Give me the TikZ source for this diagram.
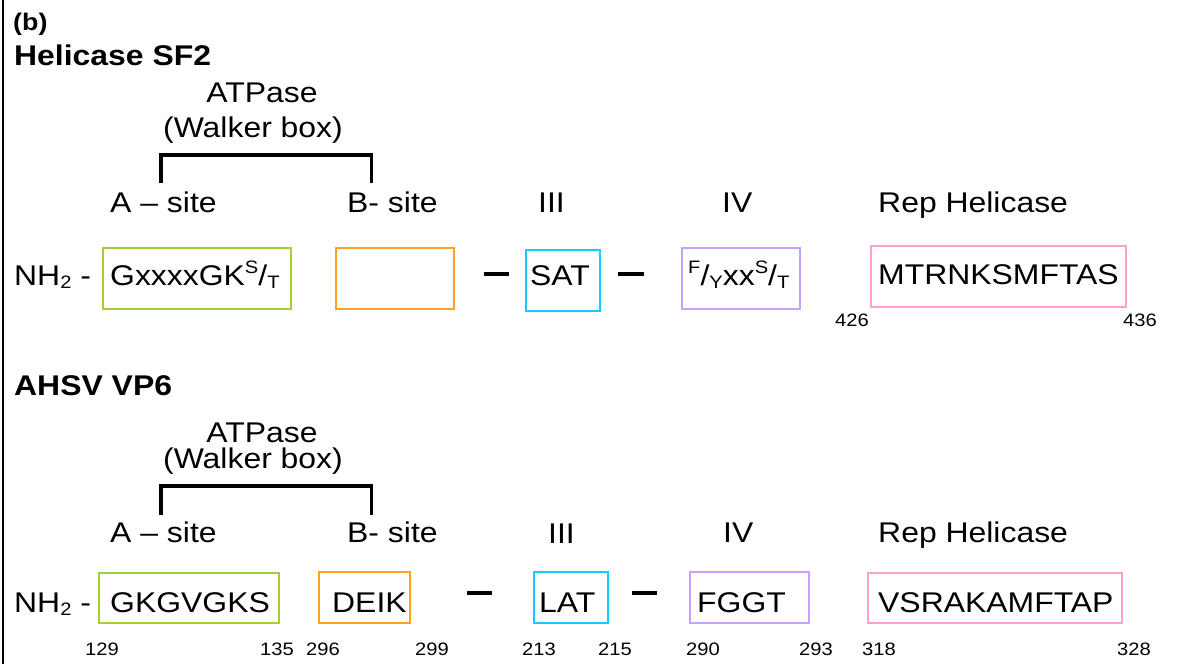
\documentclass[tikz,border=0pt]{standalone}
\usepackage{fontspec}
\setmainfont{Liberation Sans}[FakeStretch=1.12]
\definecolor{bgreen}{RGB}{160,208,50}
\definecolor{borange}{RGB}{255,160,30}
\definecolor{bcyan}{RGB}{20,204,250}
\definecolor{bpurple}{RGB}{200,160,255}
\definecolor{bpink}{RGB}{255,160,210}
\newcommand\SmallTxt[1]{{\fontsize{18}{18}\selectfont #1}}
\newcommand\SupT[1]{\raisebox{12pt}{\SmallTxt{#1}}}
\newcommand\SubT[1]{\raisebox{-3pt}{\SmallTxt{#1}}}
\newcommand\SupSub[2]{\SupT{#1}/\SubT{#2}}
\begin{document}
\begin{tikzpicture}[x=1pt,y=-1pt,
  t/.style={anchor=base west, inner sep=0pt, font=\fontsize{28.5}{30}\selectfont},
  tb/.style={anchor=base west, inner sep=0pt, font=\fontsize{28.5}{30}\selectfont\bfseries},
  num/.style={anchor=base west, inner sep=0pt, font=\fontsize{18}{20}\selectfont},
  seqbox/.style={draw=#1, line width=2pt, inner sep=0pt, anchor=north west},
  brk/.style={line width=3.3pt},
  dsh/.style={line width=3.5pt},
  frame/.style={line width=2pt}]
\useasboundingbox (0,0) rectangle (1203,664);
\coordinate (ftop) at (3,0);
\coordinate (fbot) at (3,664);
\draw[frame] (ftop) -- (fbot);

\newcommand\bx[6]{\node[seqbox=#2, minimum width={(#5-#3)*1pt}, minimum height={(#6-#4)*1pt}] (#1) at (#3,#4) {};}

% ---------- Panel 1 ----------
\node[anchor=base west, inner sep=0pt, font=\fontsize{24}{26}\selectfont\bfseries] (lab) at (13,30) {(b)};
\node[tb] (title1) at (14,65) {Helicase SF2};
\node[anchor=base, inner sep=0pt, font=\fontsize{28.5}{30}\selectfont] (atp1) at (262,102) {ATPase};
\node[anchor=base, inner sep=0pt, font=\fontsize{28.5}{30}\selectfont] (wb1) at (253,137) {(Walker box)};
\coordinate (bl1) at (161,183);
\coordinate (bt1l) at (161,155);
\coordinate (bt1r) at (371.5,155);
\coordinate (br1) at (371.5,183);
\draw[brk] (bl1) -- (bt1l) -- (bt1r) -- (br1);

\node[t] (a1) at (110,212) {A – site};
\node[t] (b1) at (347,212) {B- site};
\node[t] (iii1) at (538,212) {III};
\node[t] (iv1) at (722,212) {IV};
\node[t] (rep1) at (878,212) {Rep Helicase};

\bx{g1}{bgreen}{102}{247}{290}{308}
\bx{o1}{borange}{335}{247}{453}{308}
\bx{c1}{bcyan}{525}{249}{599}{310}
\bx{p1}{bpurple}{681}{247}{799}{308}
\bx{k1}{bpink}{870}{245}{1125}{306}

\node[t] (nh1) at (14,285) {NH\SubT{2} -};
\node[t] (s1a) at (110,285) {GxxxxGK\SupSub{S}{T}};
\node[t] (s1c) at (530,285) {SAT};
\node[t] (s1d) at (688,285) {\SupSub{F}{Y}xx\SupSub{S}{T}};
\node[t] (s1e) at (878,284) {MTRNKSMFTAS};

\coordinate (d1a) at (484,274); \coordinate (d1b) at (509,274);
\coordinate (d1c) at (618,274); \coordinate (d1d) at (644,274);
\draw[dsh] (d1a) -- (d1b);
\draw[dsh] (d1c) -- (d1d);

\node[num] (n426) at (835,326) {426};
\node[num] (n436) at (1123,326) {436};

% ---------- Panel 2 ----------
\node[tb] (title2) at (14,395) {AHSV VP6};
\node[anchor=base, inner sep=0pt, font=\fontsize{28.5}{30}\selectfont] (atp2) at (262,442) {ATPase};
\node[anchor=base, inner sep=0pt, font=\fontsize{28.5}{30}\selectfont] (wb2) at (253,468) {(Walker box)};
\coordinate (bl2) at (161,515);
\coordinate (bt2l) at (161,486);
\coordinate (bt2r) at (371.5,486);
\coordinate (br2) at (371.5,515);
\draw[brk] (bl2) -- (bt2l) -- (bt2r) -- (br2);

\node[t] (a2) at (110,542) {A – site};
\node[t] (b2) at (347,542) {B- site};
\node[t] (iii2) at (548,543) {III};
\node[t] (iv2) at (723,542) {IV};
\node[t] (rep2) at (878,542) {Rep Helicase};

\bx{g2}{bgreen}{98}{572}{278}{622}
\bx{o2}{borange}{318}{571}{409}{622}
\bx{c2}{bcyan}{533}{571}{607}{622}
\bx{p2}{bpurple}{689}{571}{808}{622}
\bx{k2}{bpink}{867}{572}{1121}{622}

\node[t] (nh2) at (14,612) {NH\SubT{2} -};
\node[t] (s2a) at (110,612) {GKGVGKS};
\node[t] (s2b) at (332,612) {DEIK};
\node[t] (s2c) at (539,612) {LAT};
\node[t] (s2d) at (697,612) {FGGT};
\node[t] (s2e) at (878,612) {VSRAKAMFTAP};

\coordinate (d2a) at (467,593); \coordinate (d2b) at (492,593);
\coordinate (d2c) at (632,593); \coordinate (d2d) at (657,593);
\draw[dsh] (d2a) -- (d2b);
\draw[dsh] (d2c) -- (d2d);

\node[num] (n129) at (85,655) {129};
\node[num] (n135) at (260,655) {135};
\node[num] (n296) at (306,655) {296};
\node[num] (n299) at (415,655) {299};
\node[num] (n213) at (522,655) {213};
\node[num] (n215) at (598,655) {215};
\node[num] (n290) at (686,655) {290};
\node[num] (n293) at (799,655) {293};
\node[num] (n318) at (862,655) {318};
\node[num] (n328) at (1117,655) {328};
\end{tikzpicture}
\end{document}
